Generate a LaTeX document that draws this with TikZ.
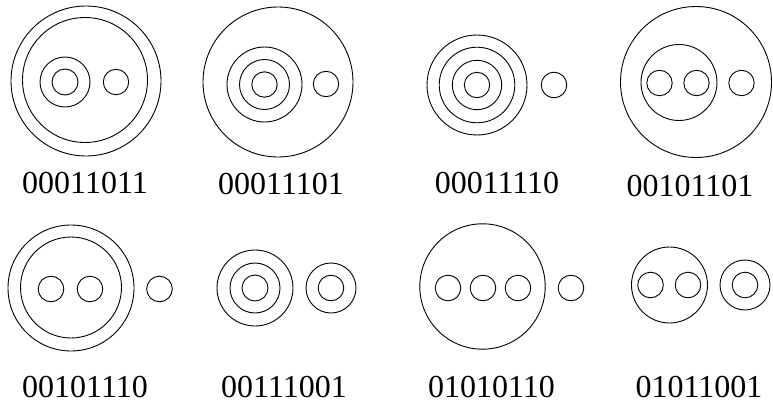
\documentclass[tikz,border=0pt]{standalone}
\usepackage{fontspec}
\setmainfont{Liberation Serif}
\begin{document}
\begin{tikzpicture}[x=1pt,y=-1pt,
  ring/.style={circle,draw=black,line width=0.9pt,inner sep=0pt,outer sep=0pt,minimum size={2*#1 pt}},
  code/.style={anchor=base,font=\fontsize{32}{36}\selectfont,inner sep=0pt}]
\useasboundingbox (0,0) rectangle (773,404);
% panel 1
\node[ring=75] (a1) at (86,81) {};
\node[ring=62.5] (a2) at (85,80) {};
\node[ring=25] (a3) at (65,82) {};
\node[ring=13] (a4) at (65,82) {};
\node[ring=12.7] (a5) at (116,82) {};
\node[code] (la) at (85,193) {00011011};
% panel 2
\node[ring=75] (b1) at (278,82) {};
\node[ring=37.5] (b2) at (264.5,84.5) {};
\node[ring=25] (b3) at (264.5,84.5) {};
\node[ring=12.7] (b4) at (264.5,84.5) {};
\node[ring=12.7] (b5) at (326,84) {};
\node[code] (lb) at (281,194) {00011101};
% panel 3
\node[ring=50] (c1) at (477,85) {};
\node[ring=37.8] (c2) at (477,85) {};
\node[ring=24.7] (c3) at (477,85) {};
\node[ring=12.7] (c4) at (477,85) {};
\node[ring=12.8] (c5) at (554,85) {};
\node[code] (lc) at (497,193) {00011110};
% panel 4
\node[ring=75.5] (d1) at (696,82) {};
\node[ring=38] (d2) at (679,82.5) {};
\node[ring=12.7] (d3) at (659.5,83) {};
\node[ring=12.7] (d4) at (696.5,83) {};
\node[ring=12.7] (d5) at (741.5,83) {};
\node[code] (ld) at (690,196) {00101101};
% panel 5
\node[ring=63] (e1) at (71,288) {};
\node[ring=50.5] (e2) at (71,287.5) {};
\node[ring=12.8] (e3) at (51,289) {};
\node[ring=12.8] (e4) at (90,289) {};
\node[ring=12.8] (e5) at (159.5,289) {};
\node[code] (le) at (85,397) {00101110};
% panel 6
\node[ring=38] (f1) at (255,288) {};
\node[ring=25] (f2) at (255,288) {};
\node[ring=13] (f3) at (255,288) {};
\node[ring=25] (f4) at (331,288) {};
\node[ring=12.8] (f5) at (331,288) {};
\node[code] (lf) at (284,397) {00111001};
% panel 7
\node[ring=62.7] (g1) at (482.5,286.5) {};
\node[ring=12.8] (g2) at (448,288) {};
\node[ring=12.8] (g3) at (483,288) {};
\node[ring=12.8] (g4) at (518,288) {};
\node[ring=12.8] (g5) at (571,288) {};
\node[code] (lg) at (491.5,397.5) {01010110};
% panel 8
\node[ring=38] (h1) at (669.5,285) {};
\node[ring=12.8] (h2) at (650.5,285) {};
\node[ring=12.8] (h3) at (688,285) {};
\node[ring=25] (h4) at (745,285) {};
\node[ring=12.8] (h5) at (745,285) {};
\node[code] (lh) at (699,397) {01011001};
\end{tikzpicture}
\end{document}
